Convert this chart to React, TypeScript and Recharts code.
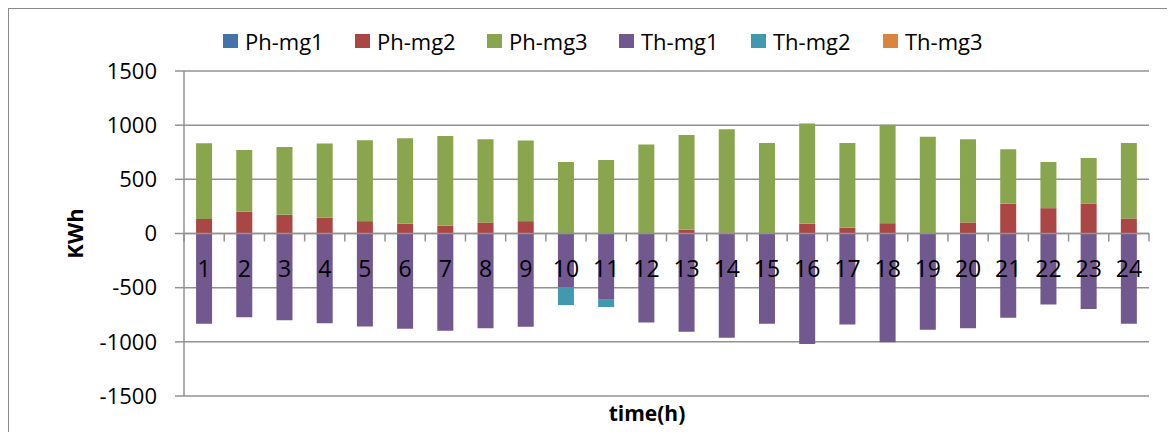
import React from 'react';
import { BarChart, Bar, XAxis, YAxis, CartesianGrid, ReferenceLine } from 'recharts';

const hours = ['1','2','3','4','5','6','7','8','9','10','11','12','13','14','15','16','17','18','19','20','21','22','23','24'];
const phMg1 = [0,0,0,0,0,0,0,0,0,0,0,0,0,0,0,0,0,0,0,0,0,0,0,0];
const phMg2 = [135,200,172,145,114,92,71,102,114,0,0,0,34,10,0,89,52,95,0,102,274,234,274,139];
const phMg3 = [698,571,627,685,747,788,830,768,744,660,679,821,876,953,836,926,784,908,892,768,504,426,423,697];
const thMg1 = [-833,-772,-800,-828,-858,-880,-898,-874,-861,-497,-611,-821,-908,-963,-834,-1019,-840,-1004,-889,-874,-778,-655,-698,-834];
const thMg2 = [0,0,0,0,0,0,0,0,0,-164,-68,0,0,0,0,0,0,0,0,0,0,0,0,0];
const thMg3 = [0,0,0,0,0,0,0,0,0,0,0,0,0,0,0,0,0,0,0,0,0,0,0,0];
const yTicks = [-1500,-1000,-500,0,500,1000,1500];

const seriesNames = ['Ph-mg1','Ph-mg2','Ph-mg3','Th-mg1','Th-mg2','Th-mg3'];
const seriesColors = ['#4572A7','#AA4643','#89A54E','#71588F','#4198AF','#DB843D'];
const seriesValues = [phMg1, phMg2, phMg3, thMg1, thMg2, thMg3];

const data = hours.map((h, i) => {
  const row: Record<string, any> = { hour: h };
  seriesNames.forEach((n, s) => { row[n] = seriesValues[s][i]; });
  return row;
});

const W = 1166;
const H = 423;
const M = { top: 62, right: 26, bottom: 0, left: 0 };
const Y_W = 175;
const X_H = 36;
const PLOT_W = W - M.left - M.right - Y_W;
const PLOT_H = H - M.top - M.bottom - X_H;
const BAND = PLOT_W / hours.length;
const ZERO_Y = M.top + PLOT_H / 2;
const FONT = "'Open Sans', sans-serif";
const GRID = '#929292';

const CatTick = (props: any) => {
  const { x, payload, index } = props;
  return (
    <g>
      {index === 0 && (
        <line x1={x - BAND / 2} x2={x - BAND / 2} y1={ZERO_Y} y2={ZERO_Y + 8} stroke={GRID} strokeWidth={1.5} />
      )}
      <line x1={x + BAND / 2} x2={x + BAND / 2} y1={ZERO_Y} y2={ZERO_Y + 8} stroke={GRID} strokeWidth={1.5} />
      <text x={x} y={ZERO_Y + 43} textAnchor="middle" fontSize={23} fontFamily={FONT} fill="#000">
        {payload.value}
      </text>
    </g>
  );
};

const YTitle = () => (
  <text
    x={65}
    y={ZERO_Y}
    transform={`rotate(-90, 65, ${ZERO_Y})`}
    textAnchor="middle"
    dominantBaseline="central"
    fontSize={22}
    fontWeight="bold"
    fontFamily={FONT}
    fill="#000"
  >
    KWh
  </text>
);

const XTitle = () => (
  <text x={638} y={412} textAnchor="middle" fontSize={21} fontWeight="bold" fontFamily={FONT} fill="#000">
    time(h)
  </text>
);

export default function App() {
  return (
    <div
      style={{
        position: 'relative',
        width: W,
        height: H,
        borderTop: '1px solid #8a8a8a',
        borderLeft: '1px solid #8a8a8a',
        background: '#fff',
        fontFamily: FONT,
      }}
    >
      <div style={{ position: 'absolute', left: 214, top: 17, display: 'flex', height: 30 }}>
        {seriesNames.map((n, i) => (
          <div key={n} style={{ width: 132, display: 'flex', alignItems: 'center', height: 30 }}>
            <div style={{ width: 15, height: 14, background: seriesColors[i], marginRight: 7 }} />
            <span style={{ fontSize: 22, lineHeight: '30px', color: '#000' }}>{n}</span>
          </div>
        ))}
      </div>
      <BarChart
        width={W}
        height={H}
        data={data}
        margin={M}
        stackOffset="sign"
        barCategoryGap="30%"
        style={{ position: 'absolute', left: 0, top: 0, fontFamily: FONT }}
      >
        <CartesianGrid horizontal vertical={false} stroke={GRID} strokeWidth={1.5} />
        <YAxis
          width={Y_W}
          domain={[-1500, 1500]}
          ticks={yTicks}
          interval={0}
          tickSize={9}
          tickMargin={18}
          axisLine={{ stroke: GRID, strokeWidth: 1.5 }}
          tickLine={{ stroke: GRID, strokeWidth: 1.5 }}
          tick={{ fill: '#000', fontSize: 22, fontFamily: FONT }}
          label={<YTitle />}
        />
        {seriesNames.map((n, i) => (
          <Bar key={n} dataKey={n} stackId="a" fill={seriesColors[i]} isAnimationActive={false} />
        ))}
        <ReferenceLine y={0} stroke={GRID} strokeWidth={1.5} />
        <XAxis
          dataKey="hour"
          height={X_H}
          interval={0}
          axisLine={false}
          tickLine={false}
          tick={<CatTick />}
          label={<XTitle />}
        />
      </BarChart>
    </div>
  );
}
